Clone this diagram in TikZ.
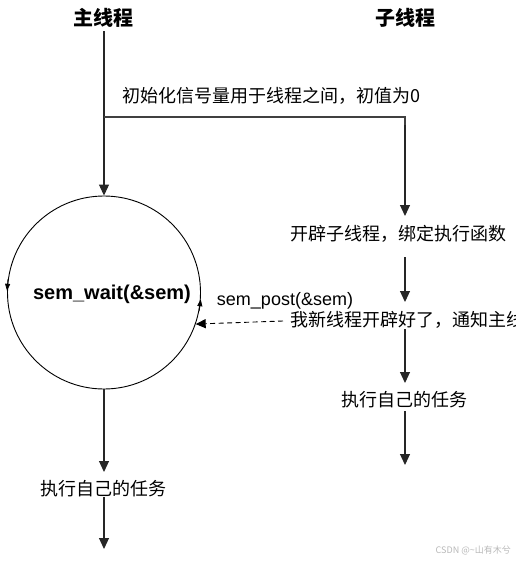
\documentclass[tikz,border=0pt]{standalone}
\usepackage{fontspec}
\setmainfont{Liberation Sans}
\newfontfamily\cjk{Noto Sans CJK SC}
\usetikzlibrary{arrows.meta}
\tikzset{
  lbl/.style={inner sep=0pt, font=\cjk\fontsize{18}{20}\selectfont},
  ttl/.style={inner sep=0pt, font=\cjk\bfseries\fontsize{20}{22}\selectfont},
  flow/.style={line width=1.1pt, draw=black!85, -{Triangle[width=10pt,length=11pt]}},
  plain/.style={line width=1.1pt, draw=black!75},
  tick/.style={line width=0.8pt, -{Triangle[width=5pt,length=7pt]}},
}
\begin{document}
\begin{tikzpicture}[x=1pt,y=-1pt]
\useasboundingbox (0,0) rectangle (516,562);
% titles
\node[ttl] (tm) at (103,18) {主线程};
\node[ttl] (ts) at (405,18) {子线程};
% init label
\node[lbl, anchor=west] (init) at (122,96) {初始化信号量用于线程之间，初值为0};
% circle
\node[draw, circle, line width=0.9pt, minimum size=193pt, inner sep=0pt] (c) at (104,292.5) {};
\node[inner sep=0pt, font=\bfseries\fontsize{20}{22}\selectfont] (wait) at (112,294) {sem\_wait(\&sem)};
\draw[tick] (c.172) -- (c.179);
\draw[tick] (c.-11) -- (c.-4);
% right column texts
\node[lbl, anchor=west] (s1) at (290,234) {开辟子线程，绑定执行函数};
\node[lbl, anchor=west] (s2) at (290,320) {我新线程开辟好了，通知主线程};
\node[lbl] (s3) at (404,400) {执行自己的任务};
\node[lbl] (m1) at (103,489) {执行自己的任务};
\node[inner sep=0pt, font=\fontsize{18}{20}\selectfont] (post) at (285,301) {sem\_post(\&sem)};
% coordinates
\coordinate (a0) at (104,31);
\coordinate (a1) at (104,117);
\coordinate (b1) at (405,117);
\coordinate (b2) at (405,216);
\coordinate (b3) at (405,257);
\coordinate (b4) at (405,302);
\coordinate (b5) at (405,329);
\coordinate (b6) at (405,383);
\coordinate (b7) at (405,411);
\coordinate (b8) at (405,465);
\coordinate (m2) at (104,472);
\coordinate (m3) at (104,497);
\coordinate (m4) at (104,549);
\coordinate (d0) at (283,321);
% main thread
\draw[flow] (a0) -- (c.north);
\draw[plain] (a1) -- (b1) -- (405,130);
\draw[flow] (405,125) -- (b2);
\draw[flow] (b3) -- (b4);
\draw[flow] (b5) -- (b6);
\draw[flow] (b7) -- (b8);
\draw[flow] (c.south) -- (m2);
\draw[flow] (m3) -- (m4);
% dashed signal
\draw[line width=0.9pt, dash pattern=on 5pt off 3.5pt, -{Triangle[width=9pt,length=10pt]}] (d0) -- (c.-19);
% watermark
\node[inner sep=0pt, text=black!28, font=\fontsize{9}{10}\selectfont\cjk, anchor=east] (wm) at (511,550) {CSDN @\textasciitilde 山有木兮};
\end{tikzpicture}
\end{document}
